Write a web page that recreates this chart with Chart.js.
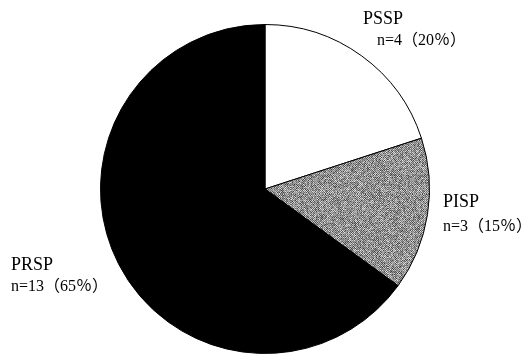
<!DOCTYPE html>
<html>
<head>
<meta charset="utf-8">
<script src="https://cdn.jsdelivr.net/npm/chart.js@4/dist/chart.umd.min.js"></script>
<style>
  html, body { margin: 0; padding: 0; background: #fff; }
  #wrap { width: 531px; height: 358px; position: relative; }
</style>
</head>
<body>
<div id="wrap"><canvas id="c" width="531" height="358"></canvas></div>
<script>
// Penicillin susceptibility groups, counts and shares
const categories = ['PSSP', 'PISP', 'PRSP'];
const counts = [4, 3, 13];
const percents = [20, 15, 65];
const countLabels = ['n=4（20％）', 'n=3（15％）', 'n=13（65％）'];

// Integer hash used for the speckled grey texture
function hash(n) {
  n = Math.imul(n ^ (n >>> 16), 0x45d9f3b);
  n = Math.imul(n ^ (n >>> 16), 0x45d9f3b);
  n = n ^ (n >>> 16);
  return (n >>> 0) / 4294967295;
}

// Speckled grey fill for the intermediate slice
function speckle() {
  const size = 97;
  const cv = document.createElement('canvas');
  cv.width = size; cv.height = size;
  const g = cv.getContext('2d');
  const img = g.createImageData(size, size);
  for (let y = 0; y < size; y++) {
    for (let x = 0; x < size; x++) {
      const n = hash(y * 1009 + x * 7 + 12345);
      const checker = ((x + y) & 1) ? 35 : -35;
      const v = Math.max(40, Math.min(235, 145 + checker + (n - 0.5) * 100));
      const i = (y * size + x) * 4;
      img.data[i] = img.data[i + 1] = img.data[i + 2] = v;
      img.data[i + 3] = 255;
    }
  }
  g.putImageData(img, 0, 0);
  return document.getElementById('c').getContext('2d').createPattern(cv, 'repeat');
}

// Text labels placed beside each slice
const labelPos = [
  { x: 363, y: 24, x2: 377, y2: 45 },
  { x: 443, y: 207, x2: 443, y2: 231 },
  { x: 11, y: 270, x2: 11, y2: 291 }
];

const sideLabels = {
  id: 'sideLabels',
  afterDraw(chart) {
    const ctx = chart.ctx;
    ctx.save();
    ctx.fillStyle = '#000';
    ctx.textBaseline = 'alphabetic';
    ctx.textAlign = 'left';
    categories.forEach((name, i) => {
      const p = labelPos[i];
      ctx.font = '18px "Liberation Serif", "Noto Sans CJK SC", serif';
      ctx.fillText(name, p.x, p.y);
      ctx.font = '16px "Liberation Serif", "Noto Sans CJK SC", serif';
      ctx.fillText(countLabels[i], p.x2, p.y2);
    });
    ctx.restore();
  }
};

new Chart(document.getElementById('c'), {
  type: 'pie',
  data: {
    labels: categories,
    datasets: [{
      data: counts,
      backgroundColor: ['#ffffff', speckle(), '#000000'],
      borderColor: '#000000',
      borderWidth: 1
    }]
  },
  options: {
    responsive: false,
    animation: false,
    layout: { padding: { top: 24, bottom: 4, left: 100, right: 101 } },
    plugins: { legend: { display: false }, tooltip: { enabled: false } }
  },
  plugins: [sideLabels]
});
</script>
</body>
</html>
